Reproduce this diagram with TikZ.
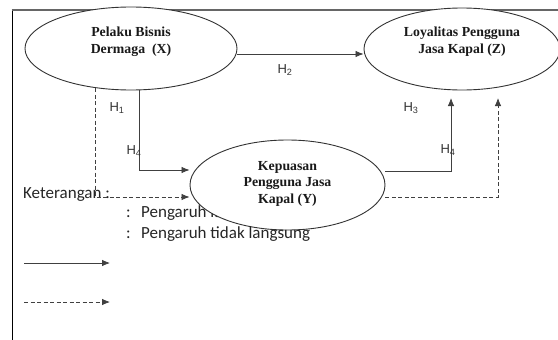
\documentclass[tikz,border=0pt]{standalone}
\usepackage{fontspec}
\usetikzlibrary{shapes.geometric,arrows.meta}
\newfontfamily\serifbold{Liberation Serif}
\newfontfamily\calib{Carlito}
\newfontfamily\arialf{Liberation Sans}
\begin{document}
\begin{tikzpicture}[x=1pt,y=-1pt,
  oval/.style={ellipse,draw=black!80,line width=0.9pt,fill=white,inner sep=0pt},
  ovaltext/.style={font=\serifbold\bfseries\fontsize{13.8}{17}\selectfont,align=center,inner sep=0pt,text=black!90},
  hlab/.style={font=\arialf\fontsize{13}{15}\selectfont,inner sep=0pt,text=black!80},
  legtext/.style={font=\calib\fontsize{17}{20}\selectfont,inner sep=0pt,anchor=base west,text=black!85},
  conn/.style={draw=black!75,line width=0.8pt,-{Latex[length=8pt,width=6.5pt]}},
  dconn/.style={conn,dash pattern=on 4pt off 2.5pt}]
\useasboundingbox (0,0) rectangle (558,340);
% frame
\coordinate (f1) at (12,340);
\coordinate (f2) at (12,10);
\coordinate (f3) at (558,10);
\draw[black,line width=0.8pt] (f1) -- (f2);
\draw[black!60,line width=2pt] (11.6,10) -- (f3);
% legend text (below ellipse Y)
\node[legtext] (ket) at (23,198) {Keterangan :};
\node[legtext] (c1) at (126,217) {:};
\node[legtext] (p1) at (141,217) {Pengaruh langsung};
% ellipses
\node[oval,minimum width=212pt,minimum height=83pt] (X) at (131,48.5) {};
\node[oval,minimum width=196pt,minimum height=82pt] (Z) at (462,49) {};
\node[oval,minimum width=195pt,minimum height=90pt] (Y) at (287.5,185) {};
\node[ovaltext] (Xt) at ([yshift=7pt]X.center) {Pelaku Bisnis\\Dermaga\ \ (X)};
\node[ovaltext] (Zt) at ([yshift=7.5pt]Z.center) {Loyalitas Pengguna\\Jasa Kapal (Z)};
\node[ovaltext,font=\serifbold\bfseries\fontsize{13.8}{16.5}\selectfont] (Yt) at ([yshift=1.5pt]Y.center) {Kepuasan\\Pengguna Jasa\\Kapal (Y)};
\node[legtext] (c2) at (126,238) {:};
\node[legtext] (p2) at (141,238) {Pengaruh tidak langsung};
% connectors
\draw[conn] (X.east |- 0,54) -- (Z.west |- 0,54);
\coordinate (zs) at (451,98);
\coordinate (zd) at (498,98);
\draw[conn] (139,90) |- (Y.west |- 0,170);
\draw[dconn] (95,88) |- (Y.west |- 0,197);
\draw[conn] (Y.east |- 0,171) -| (zs);
\draw[dconn] (Y.east |- 0,197) -| (zd);
% labels
\node[hlab] (h2) at (285,70) {H\textsubscript{2}};
\node[hlab] (h1) at (117,108) {H\textsubscript{1}};
\node[hlab] (h4a) at (134,151) {H\textsubscript{4}};
\node[hlab] (h3) at (411,108) {H\textsubscript{3}};
\node[hlab] (h4b) at (448,150) {H\textsubscript{4}};
% legend arrows
\coordinate (l1a) at (24,263);
\coordinate (l1b) at (110,263);
\coordinate (l2a) at (24,302);
\coordinate (l2b) at (110,302);
\draw[conn] (l1a) -- (l1b);
\draw[dconn] (l2a) -- (l2b);
\end{tikzpicture}
\end{document}
